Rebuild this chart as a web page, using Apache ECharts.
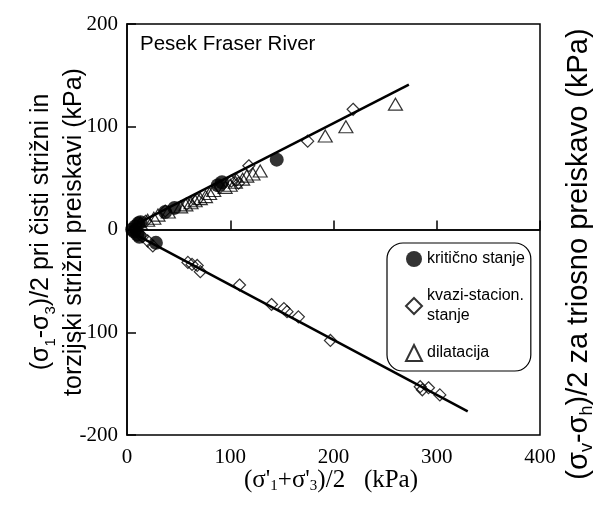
<!DOCTYPE html>
<html><head><meta charset="utf-8">
<script src="https://cdn.jsdelivr.net/npm/echarts@6/dist/echarts.min.js"></script>
<style>html,body{margin:0;padding:0;background:#fff}#c{width:598px;height:506px}</style>
</head><body><div id="c"></div>
<script>
// ---- data ----
const xTicks = [0, 100, 200, 300, 400];
const yTicks = [-200, -100, 0, 100, 200];
const seriesNames = ['kritično stanje', 'kvazi-stacion.\nstanje', 'dilatacija'];
const kriticno = [[5,0],[8,3],[11,6],[13,7],[7,-2],[10,-5],[12,-7],[28,-13],[37,17],[46,21],[88,43],[92,46],[145,68]];
const kvazi = [[18,8],[37,18],[58,25],[68,29],[90,41],[101,47],[106,48],[108,45],[118,62],[175,86],[219,117],
  [15,-7],[20,-11],[25,-16],[59,-32],[63,-34],[68,-35],[71,-41],[109,-54],[140,-73],[152,-77],[155,-80],[166,-85],[197,-108],[284,-153],[286,-156],[292,-154],[303,-161]];
const dilatacija = [[13,6],[20,9],[26,11],[30,14],[40,17],[52,22],[57,24],[62,26],[66,28],[71,30],[76,32],[80,35],[84,38],[95,41],[100,43],[105,46],[112,49],[116,52],[122,54],[129,57],[192,91],[212,100],[260,122]];
const fitUpper = [[3,2],[273,141]];
const fitLower = [[3,-2],[330,-177]];

const chart = echarts.init(document.getElementById('c'));
const serif = 'Liberation Serif';
const sans = 'Liberation Sans';
const axisCommon = {
  type: 'value',
  axisLine: {show: true, lineStyle: {color: '#000', width: 1.5}},
  axisTick: {show: true, inside: true, length: 9, lineStyle: {color: '#000', width: 1.5}},
  splitLine: {show: false},
  axisLabel: {color: '#000', fontFamily: serif, fontSize: 21}
};
const openStyle = {color: 'rgba(255,255,255,0)', borderColor: '#000', borderWidth: 1.2};
chart.setOption({
  animation: false,
  backgroundColor: '#fff',
  grid: {left: 127, right: 58, top: 24, bottom: 71, show: true, borderColor: '#000', borderWidth: 1.5},
  xAxis: Object.assign({}, axisCommon, {
    min: xTicks[0], max: xTicks[xTicks.length-1], interval: 100,
    axisLabel: Object.assign({}, axisCommon.axisLabel, {margin: 12})
  }),
  yAxis: Object.assign({}, axisCommon, {
    min: yTicks[0], max: yTicks[yTicks.length-1], interval: 100,
    axisLabel: Object.assign({}, axisCommon.axisLabel, {margin: 9})
  }),
  legend: {
    orient: 'vertical', left: 387, top: 243,
    padding: [6, 6, 8, 18], itemGap: 17, itemWidth: 16, itemHeight: 16,
    borderColor: '#000', borderWidth: 1.2, borderRadius: 16,
    textStyle: {fontFamily: sans, fontSize: 16, color: '#000', lineHeight: 20},
    data: seriesNames
  },
  graphic: [
    {type: 'text', left: 140, top: 34, style: {text: 'Pesek Fraser River', font: '20.5px "Liberation Sans"', fill: '#000'}},
    {type: 'text', x: 58, y: 232, rotation: Math.PI/2,
      style: {text: '{n|(σ}{s|1}{n|-σ}{s|3}{n|)/2 pri čisti strižni in}\n{n|torzijski strižni preiskavi (kPa)}',
        align: 'center', verticalAlign: 'middle', fill: '#000',
        rich: {n: {fontFamily: sans, fontSize: 25, lineHeight: 33, fill: '#000'},
               s: {fontFamily: sans, fontSize: 15, lineHeight: 15, verticalAlign: 'bottom', fill: '#000'}}}},
    {type: 'text', x: 579, y: 254, rotation: Math.PI/2,
      style: {text: '{n|(σ}{s|v}{n|-σ}{s|h}{n|)/2 za triosno preiskavo (kPa)}',
        align: 'center', verticalAlign: 'middle', fill: '#000',
        rich: {n: {fontFamily: sans, fontSize: 29, lineHeight: 34, fill: '#000'},
               s: {fontFamily: sans, fontSize: 18, lineHeight: 18, verticalAlign: 'bottom', fill: '#000'}}}},
    {type: 'text', x: 331, y: 480,
      style: {text: '{n|(σ\'}{s|1}{n|+σ\'}{s|3}{n|)/2   (kPa)}',
        align: 'center', verticalAlign: 'middle', fill: '#000',
        rich: {n: {fontFamily: serif, fontSize: 25, lineHeight: 28, fill: '#000'},
               s: {fontFamily: serif, fontSize: 15, lineHeight: 15, verticalAlign: 'bottom', fill: '#000'}}}}
  ],
  series: [
    {type: 'line', data: fitUpper, symbol: 'none', lineStyle: {color: '#000', width: 2.5}, z: 2, silent: true,
      markLine: {silent: true, symbol: 'none', label: {show: false}, lineStyle: {color: '#000', width: 1.5, type: 'solid'}, data: [{yAxis: 0}]}},
    {type: 'line', data: fitLower, symbol: 'none', lineStyle: {color: '#000', width: 2.5}, z: 2, silent: true},
    {name: seriesNames[1], type: 'scatter', data: kvazi, symbol: 'diamond', symbolSize: 12, itemStyle: openStyle, z: 3},
    {name: seriesNames[2], type: 'scatter', data: dilatacija, symbol: 'triangle', symbolSize: [14, 12], itemStyle: openStyle, z: 3},
    {name: seriesNames[0], type: 'scatter', data: kriticno, symbol: 'circle', symbolSize: 14, itemStyle: {color: '#000'}, z: 4}
  ]
});
</script></body></html>
